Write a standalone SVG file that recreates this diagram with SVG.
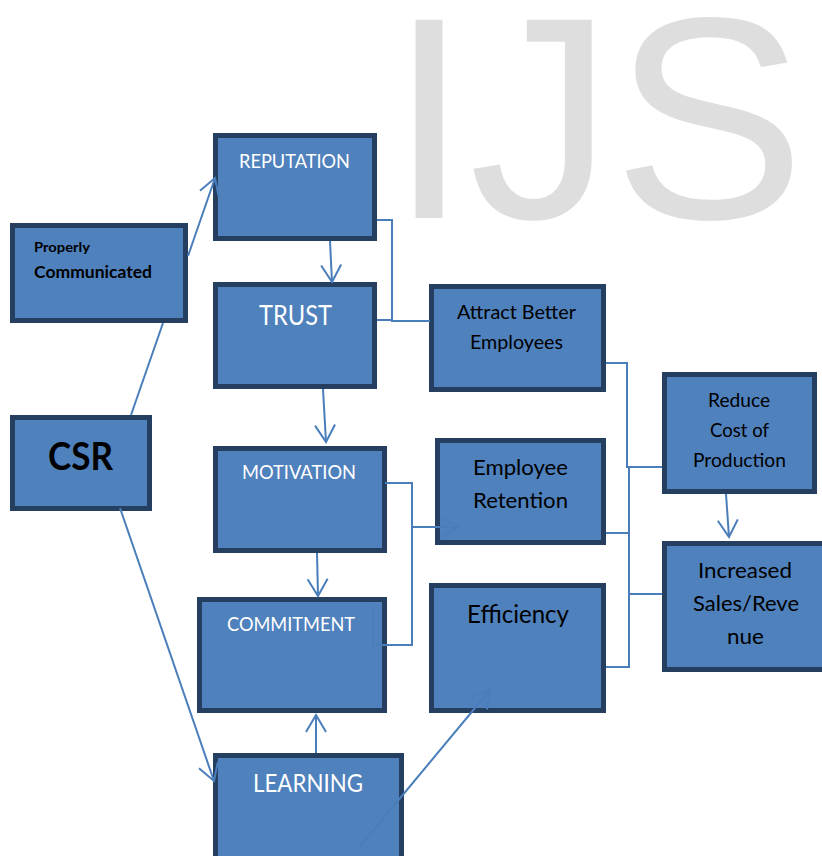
<svg xmlns="http://www.w3.org/2000/svg" width="822" height="856" viewBox="0 0 822 856">
<style>
.box{fill:#4f81bd;stroke:#243f60;stroke-width:5}
.lw{fill:#ffffff;font-family:Lato,"Liberation Sans",sans-serif}
.lb{fill:#000000;font-family:Lato,"Liberation Sans",sans-serif}
.bold{font-weight:bold}
.con{fill:none;stroke:#4a7ebb;stroke-width:2}
.wm{fill:#dedede;font-family:"Liberation Sans",Arial,sans-serif;font-size:288px}
</style>
<defs>
<marker id="ah" markerUnits="userSpaceOnUse" markerWidth="24" markerHeight="24" viewBox="-20 -12 24 24" refX="0" refY="0" orient="auto">
<path d="M-17,-10 L0,0 L-17,10" fill="none" stroke="#4a7ebb" stroke-width="2"/>
</marker>
</defs>
<rect width="822" height="856" fill="#ffffff"/>
<text class="wm" x="389" y="218">IJS</text>

<g id="reputation"><rect class="box" x="215.5" y="135.5" width="159" height="103"/><text class="lw" x="239" y="168" font-size="19" textLength="111" lengthAdjust="spacingAndGlyphs">REPUTATION</text></g>
<g id="properly"><rect class="box" x="12.5" y="225.5" width="173" height="95"/><text class="lb bold" x="34" y="252" font-size="14" textLength="56" lengthAdjust="spacingAndGlyphs">Properly</text><text class="lb bold" x="34" y="278" font-size="17" textLength="118" lengthAdjust="spacingAndGlyphs">Communicated</text></g>
<g id="trust"><rect class="box" x="215.5" y="284.5" width="159" height="102"/><text class="lw" x="259" y="325" font-size="27" textLength="73" lengthAdjust="spacingAndGlyphs">TRUST</text></g>
<g id="csr"><rect class="box" x="12.5" y="417.5" width="137" height="91"/><text class="lb bold" x="48" y="470" font-size="38" textLength="65" lengthAdjust="spacingAndGlyphs">CSR</text></g>
<g id="motivation"><rect class="box" x="215.5" y="448.5" width="169" height="102"/><text class="lw" x="242" y="479" font-size="19" textLength="114" lengthAdjust="spacingAndGlyphs">MOTIVATION</text></g>
<g id="commitment"><rect class="box" x="199.5" y="599.5" width="185" height="111"/><text class="lw" x="227" y="631" font-size="19" textLength="128" lengthAdjust="spacingAndGlyphs">COMMITMENT</text></g>
<g id="learning"><rect class="box" x="215.5" y="755.5" width="186" height="110"/><text class="lw" x="253" y="792" font-size="25" textLength="110" lengthAdjust="spacingAndGlyphs">LEARNING</text></g>
<g id="attract"><rect class="box" x="431.5" y="286.5" width="172" height="103"/><text class="lb" x="457" y="319" font-size="19" textLength="119" lengthAdjust="spacingAndGlyphs">Attract Better</text><text class="lb" x="470" y="349" font-size="19" textLength="93" lengthAdjust="spacingAndGlyphs">Employees</text></g>
<g id="retention"><rect class="box" x="437.5" y="440.5" width="166" height="102"/><text class="lb" x="473" y="475" font-size="22" textLength="95" lengthAdjust="spacingAndGlyphs">Employee</text><text class="lb" x="473" y="508" font-size="22" textLength="95" lengthAdjust="spacingAndGlyphs">Retention</text></g>
<g id="efficiency"><rect class="box" x="431.5" y="585.5" width="172" height="125"/><text class="lb" x="467" y="623" font-size="25" textLength="102" lengthAdjust="spacingAndGlyphs">Efficiency</text></g>
<g id="reduce"><rect class="box" x="664.5" y="374.5" width="150" height="117"/><text class="lb" x="708" y="407" font-size="19" textLength="62" lengthAdjust="spacingAndGlyphs">Reduce</text><text class="lb" x="710" y="437" font-size="19" textLength="59" lengthAdjust="spacingAndGlyphs">Cost of</text><text class="lb" x="693" y="467" font-size="19" textLength="93" lengthAdjust="spacingAndGlyphs">Production</text></g>
<g id="increased"><rect class="box" x="664.5" y="543.5" width="170" height="126"/><text class="lb" x="698" y="578" font-size="22" textLength="94" lengthAdjust="spacingAndGlyphs">Increased</text><text class="lb" x="693" y="611" font-size="22" textLength="106" lengthAdjust="spacingAndGlyphs">Sales/Reve</text><text class="lb" x="727" y="644" font-size="22" textLength="37" lengthAdjust="spacingAndGlyphs">nue</text></g>

<g id="connectors">
<line class="con" x1="131" y1="415" x2="163" y2="323"/>
<line class="con" x1="188" y1="256" x2="215" y2="178" marker-end="url(#ah)"/>
<line class="con" x1="330" y1="241" x2="332" y2="282" marker-end="url(#ah)"/>
<line class="con" x1="323" y1="389" x2="326" y2="442" marker-end="url(#ah)"/>
<line class="con" x1="317" y1="553" x2="318" y2="596" marker-end="url(#ah)"/>
<line class="con" x1="316" y1="753" x2="316" y2="715" marker-end="url(#ah)"/>
<line class="con" x1="120" y1="508" x2="214" y2="781" marker-end="url(#ah)"/>
<line class="con" x1="357" y1="850" x2="490" y2="690" marker-end="url(#ah)"/>
<polyline class="con" points="377,220 392,220 392,321 430,321"/>
<line class="con" x1="377" y1="320" x2="392" y2="320"/>
<polyline class="con" points="606,363 627,363 627,467 662,467"/>
<line class="con" x1="629" y1="467" x2="629" y2="668"/>
<line class="con" x1="606" y1="533" x2="629" y2="533"/>
<line class="con" x1="628" y1="594" x2="662" y2="594"/>
<line class="con" x1="606" y1="667" x2="629" y2="667"/>
<polyline class="con" points="385,483 412,483 412,645 373,645 373,607"/>
<line class="con" x1="412" y1="527" x2="458" y2="527" marker-end="url(#ah)"/>
<line class="con" x1="726" y1="494" x2="729" y2="537" marker-end="url(#ah)"/>
</g>
</svg>
